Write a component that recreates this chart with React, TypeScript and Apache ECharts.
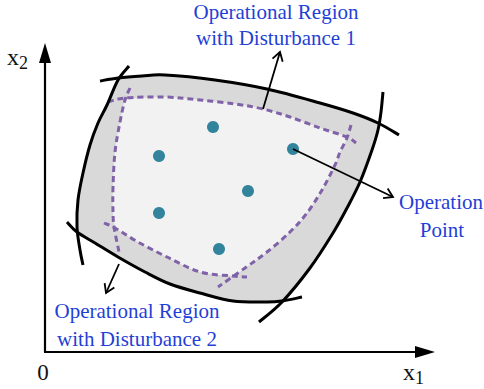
import React, { useEffect, useRef } from "react";
import * as echarts from "echarts";

type P = [number, number];

// Coordinates in (x1, x2) units of the drawing
const outerTop: P[] = [[55, 271], [73, 274], [97, 276], [120, 277], [170, 272], [222, 263], [275, 249], [308, 239], [333, 229], [354, 217]];
const outerRight: P[] = [[338, 260], [336, 240], [333, 222], [327, 202], [315, 170], [302, 144], [288, 119], [265, 84], [237, 50], [214, 30]];
const outerBottom: P[] = [[22, 130], [32, 120], [50, 109], [73, 95], [100, 80], [125, 68], [155, 59], [188, 51], [222, 50], [237, 51], [257, 55]];
const outerLeft: P[] = [[84, 286], [73, 272], [62, 247], [53, 229], [45, 207], [38, 179], [33, 152], [32, 125], [35, 102], [38, 87]];

const grayTop: P[] = [[74, 273], [97, 276], [120, 277], [170, 272], [222, 263], [275, 249], [308, 239], [335, 228]];
const grayRight: P[] = [[335, 228], [327, 202], [315, 170], [302, 144], [288, 119], [265, 84], [237, 50]];
const grayBottom: P[] = [[237, 50], [222, 50], [188, 51], [155, 59], [125, 68], [100, 80], [73, 95], [50, 109], [32, 122]];
const grayLeft: P[] = [[32, 122], [33, 152], [38, 179], [45, 207], [53, 229], [62, 247], [74, 273]];

const dashedTop: P[] = [[63, 250], [80, 254], [120, 255], [155, 252], [190, 248], [218, 243], [245, 235], [275, 224], [302, 215], [311, 209]];
const dashedRight: P[] = [[306, 227], [302, 214], [295, 200], [290, 187], [277, 162], [262, 139], [245, 120], [222, 100], [200, 84], [173, 65]];
const dashedBottom: P[] = [[59, 129], [70, 124], [93, 110], [122, 95], [155, 80], [188, 76], [202, 75]];
const dashedLeft: P[] = [[85, 264], [80, 252], [75, 230], [70, 200], [68, 165], [68, 140], [69, 125], [73, 105], [74, 100]];

const lightTop: P[] = [[80, 253], [120, 255], [155, 252], [190, 248], [218, 243], [245, 235], [275, 224], [303, 215]];
const lightRight: P[] = [[303, 215], [295, 200], [290, 187], [277, 162], [262, 139], [245, 120], [222, 100], [189, 76]];
const lightBottom: P[] = [[189, 76], [155, 80], [122, 95], [93, 110], [70, 124]];
const lightLeft: P[] = [[70, 124], [68, 140], [68, 165], [70, 200], [75, 230], [80, 253]];

const operationPoints: P[] = [[168, 225], [114, 196], [248, 203], [203, 161], [114, 139], [174, 103]];

const arrowLines: [P, P][] = [
  [[218, 243], [235, 300]],
  [[248, 203], [348, 155]],
  [[74, 88], [61, 59]],
];

function smoothPath(pts: number[][], start: boolean): string {
  let d = start ? `M${pts[0][0]},${pts[0][1]}` : "";
  for (let i = 0; i < pts.length - 1; i++) {
    const p0 = pts[i - 1] || pts[i];
    const p1 = pts[i];
    const p2 = pts[i + 1];
    const p3 = pts[i + 2] || pts[i + 1];
    const c1x = p1[0] + (p2[0] - p0[0]) / 6;
    const c1y = p1[1] + (p2[1] - p0[1]) / 6;
    const c2x = p2[0] - (p3[0] - p1[0]) / 6;
    const c2y = p2[1] - (p3[1] - p1[1]) / 6;
    d += `C${c1x},${c1y} ${c2x},${c2y} ${p2[0]},${p2[1]}`;
  }
  return d;
}

const TEXT_BLUE = "#1f3fd6";
const SERIF = '"Liberation Serif", "Times New Roman", serif';

export default function App() {
  const ref = useRef<HTMLDivElement>(null);
  useEffect(() => {
    if (!ref.current) return;
    const chart = echarts.init(ref.current, undefined, { renderer: "svg" });

    const renderRegions = (params: any, api: any) => {
      const px = (p: P) => api.coord(p);
      const region = (edges: P[][]) =>
        edges.map((e, i) => smoothPath(e.map(px), i === 0)).join("") + "Z";
      const curve = (pts: P[]) => smoothPath(pts.map(px), true);
      const children: any[] = [];
      children.push({
        type: "path",
        shape: { pathData: region([grayTop, grayRight, grayBottom, grayLeft]) },
        style: { fill: "#d9d9d9", stroke: "none" },
      });
      children.push({
        type: "path",
        shape: { pathData: region([lightTop, lightRight, lightBottom, lightLeft]) },
        style: { fill: "#f2f2f2", stroke: "none" },
      });
      [dashedTop, dashedRight, dashedBottom, dashedLeft].forEach((c) =>
        children.push({
          type: "path",
          shape: { pathData: curve(c) },
          style: { fill: "none", stroke: "#7f62a8", lineWidth: 3, lineDash: [6, 4] },
        })
      );
      [outerTop, outerRight, outerBottom, outerLeft].forEach((c) =>
        children.push({
          type: "path",
          shape: { pathData: curve(c) },
          style: { fill: "none", stroke: "#000", lineWidth: 3 },
        })
      );
      return { type: "group", children };
    };

    const renderArrows = (params: any, api: any) => {
      const children: any[] = [];
      arrowLines.forEach(([a, b]) => {
        const pa = api.coord(a);
        const pb = api.coord(b);
        const dx = pb[0] - pa[0];
        const dy = pb[1] - pa[1];
        const len = Math.hypot(dx, dy);
        const ux = dx / len;
        const uy = dy / len;
        const L = 10;
        const ang = (32 * Math.PI) / 180;
        const rot = (s: number) => [
          pb[0] - L * (ux * Math.cos(s * ang) - uy * Math.sin(s * ang)),
          pb[1] - L * (ux * Math.sin(s * ang) + uy * Math.cos(s * ang)),
        ];
        children.push({
          type: "line",
          shape: { x1: pa[0], y1: pa[1], x2: pb[0], y2: pb[1] },
          style: { stroke: "#000", lineWidth: 1.8 },
        });
        children.push({
          type: "polyline",
          shape: { points: [rot(1), pb, rot(-1)] },
          style: { stroke: "#000", lineWidth: 1.8, fill: "none" },
        });
      });
      return { type: "group", children };
    };

    chart.setOption({
      animation: false,
      grid: { left: 45, right: 59, top: 53, bottom: 37, outerBoundsMode: "none", containLabel: false },
      xAxis: {
        type: "value",
        min: 0,
        max: 380,
        axisLine: {
          show: true,
          onZero: false,
          symbol: ["none", "triangle"],
          symbolSize: [12, 20],
          lineStyle: { color: "#000", width: 2.2 },
        },
        axisTick: { show: false },
        axisLabel: { show: false },
        splitLine: { show: false },
      },
      yAxis: {
        type: "value",
        min: 0,
        max: 299,
        axisLine: {
          show: true,
          onZero: false,
          symbol: ["none", "triangle"],
          symbolSize: [12, 20],
          lineStyle: { color: "#000", width: 2.2 },
        },
        axisTick: { show: false },
        axisLabel: { show: false },
        splitLine: { show: false },
      },
      series: [
        {
          type: "custom",
          coordinateSystem: "cartesian2d",
          data: [[0, 0]],
          clip: false,
          silent: true,
          renderItem: renderRegions,
          z: 1,
        },
        {
          type: "scatter",
          data: operationPoints,
          symbol: "circle",
          symbolSize: 12,
          itemStyle: { color: "#31849b", opacity: 1 },
          silent: true,
          z: 2,
        },
        {
          type: "custom",
          coordinateSystem: "cartesian2d",
          data: [[0, 0]],
          clip: false,
          silent: true,
          renderItem: renderArrows,
          z: 3,
        },
      ],
      graphic: [
        { type: "text", x: 276, y: 12, style: { text: "Operational Region", fontSize: 21, fontFamily: SERIF, fill: TEXT_BLUE, align: "center", verticalAlign: "middle" } },
        { type: "text", x: 276, y: 38, style: { text: "with Disturbance 1", fontSize: 21, fontFamily: SERIF, fill: TEXT_BLUE, align: "center", verticalAlign: "middle" } },
        { type: "text", x: 441, y: 202, style: { text: "Operation", fontSize: 21, fontFamily: SERIF, fill: TEXT_BLUE, align: "center", verticalAlign: "middle" } },
        { type: "text", x: 442, y: 230, style: { text: "Point", fontSize: 21, fontFamily: SERIF, fill: TEXT_BLUE, align: "center", verticalAlign: "middle" } },
        { type: "text", x: 137, y: 311, style: { text: "Operational Region", fontSize: 21, fontFamily: SERIF, fill: TEXT_BLUE, align: "center", verticalAlign: "middle" } },
        { type: "text", x: 137, y: 339, style: { text: "with Disturbance 2", fontSize: 21, fontFamily: SERIF, fill: TEXT_BLUE, align: "center", verticalAlign: "middle" } },
        { type: "text", x: 43, y: 372, style: { text: "0", fontSize: 23, fontFamily: SERIF, fill: "#111", align: "center", verticalAlign: "middle" } },
        {
          type: "text",
          x: 403,
          y: 372,
          style: {
            text: "{x|x}{s|1}",
            fontFamily: SERIF,
            fill: "#111",
            align: "left",
            verticalAlign: "middle",
            rich: {
              x: { fontSize: 24, fontFamily: SERIF, fill: "#111" },
              s: { fontSize: 18, fontFamily: SERIF, fill: "#111", padding: [12, 0, 0, 0] },
            },
          },
        },
        {
          type: "text",
          x: 7,
          y: 57,
          style: {
            text: "{x|x}{s|2}",
            fontFamily: SERIF,
            fill: "#111",
            align: "left",
            verticalAlign: "middle",
            rich: {
              x: { fontSize: 24, fontFamily: SERIF, fill: "#111" },
              s: { fontSize: 18, fontFamily: SERIF, fill: "#111", padding: [12, 0, 0, 0] },
            },
          },
        },
      ],
    });
    return () => chart.dispose();
  }, []);
  return (
    <div
      ref={ref}
      style={{ position: "fixed", left: 0, top: 0, width: 484, height: 389, background: "#fff" }}
    />
  );
}
